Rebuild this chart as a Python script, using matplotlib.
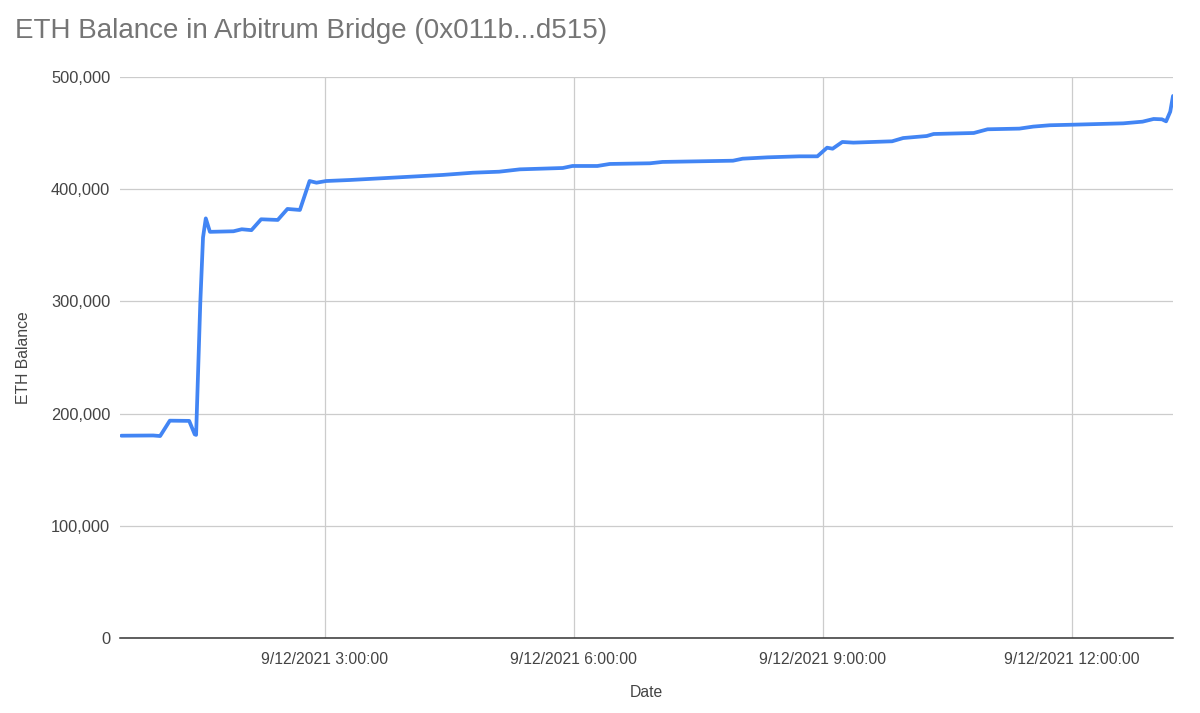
#!/usr/bin/env python3
"""
ETH balance held by the Arbitrum bridge contract over 12 Sep 2021.
"""

import matplotlib
matplotlib.use('Agg')
import matplotlib.pyplot as plt
import matplotlib.dates as mdates
from matplotlib.ticker import FuncFormatter, MultipleLocator
import pandas as pd

DAY = "2021-09-12"

# sample times (HH:MM) and balances
times = [
    "00:33", "00:56", "01:01", "01:08", "01:22", "01:26", "01:27", "01:30",
    "01:32", "01:34", "01:37", "01:54", "02:00", "02:07", "02:14", "02:26",
    "02:33", "02:42", "02:49", "02:54", "03:01", "03:18", "04:25", "04:47",
    "05:06", "05:21", "05:52", "05:59", "06:17", "06:26", "06:55", "07:04",
    "07:55", "08:02", "08:20", "08:43", "08:56", "09:03", "09:07", "09:14",
    "09:22", "09:50", "09:58", "10:15", "10:20", "10:49", "10:59", "11:22",
    "11:32", "11:44", "12:01", "12:37", "12:51", "12:59", "13:05", "13:08",
    "13:11", "13:13",
]
balances = [
    180300, 180500, 180000, 193700, 193500, 181500, 181000, 298000,
    357000, 374000, 362000, 362500, 364300, 363500, 373200, 372600,
    382400, 381500, 407300, 405800, 407300, 408200, 412700, 414700,
    415600, 417700, 418900, 420700, 420700, 422500, 423100, 424300,
    425400, 427200, 428400, 429300, 429300, 437000, 436100, 442100,
    441500, 442700, 445600, 447400, 449200, 450100, 453400, 454000,
    455800, 457000, 457500, 458700, 460200, 462600, 462300, 460500,
    469100, 483100,
]

x_start = "00:32"
x_end = "13:13"
x_ticks = ["03:00", "06:00", "09:00", "12:00"]

TITLE = "ETH Balance in Arbitrum Bridge (0x011b...d515)"
LINE_COLOR = "#4285F4"
TEXT_COLOR = "#444444"
GRID_COLOR = "#CCCCCC"

plt.rcParams['font.family'] = ['Liberation Sans', 'DejaVu Sans']


def ts(hhmm):
    return pd.Timestamp(f"{DAY} {hhmm}")


def main() -> None:
    x = [ts(t) for t in times]

    fig = plt.figure(figsize=(12, 7.13), dpi=100)
    ax = fig.add_axes([0.1, 0.1052, 0.8775, 0.7868])

    ax.plot(x, balances, color=LINE_COLOR, linewidth=2.7,
            solid_joinstyle="round", solid_capstyle="round", zorder=3)

    ax.set_xlim(ts(x_start), ts(x_end))
    ax.set_ylim(0, 500000)
    ax.set_xticks([ts(t) for t in x_ticks])
    ax.xaxis.set_major_formatter(mdates.DateFormatter("9/12/2021 %-H:%M:%S"))
    ax.yaxis.set_major_locator(MultipleLocator(100000))
    ax.yaxis.set_major_formatter(FuncFormatter(lambda v, _: f"{int(v):,}"))

    ax.grid(True, color=GRID_COLOR, linewidth=0.9, zorder=0)
    for side in ("left", "right", "top"):
        ax.spines[side].set_visible(False)
    ax.spines["bottom"].set_color("#333333")
    ax.spines["bottom"].set_linewidth(1.1)
    ax.tick_params(length=0, labelsize=11.3, colors=TEXT_COLOR)
    ax.tick_params(axis="x", pad=10)
    ax.tick_params(axis="y", pad=7)
    ax.tick_params(axis="y", labelsize=11.8)

    ax.set_xlabel("Date", fontsize=11.3, color=TEXT_COLOR, labelpad=13)
    ax.set_ylabel("ETH Balance", fontsize=11.3, color=TEXT_COLOR, labelpad=14)

    fig.text(15 / 1200, 1 - 31 / 713, TITLE, fontsize=20, color="#757575",
             ha="left", va="center")

    fig.savefig("out.png", dpi=100)
    plt.close(fig)


if __name__ == "__main__":
    main()
